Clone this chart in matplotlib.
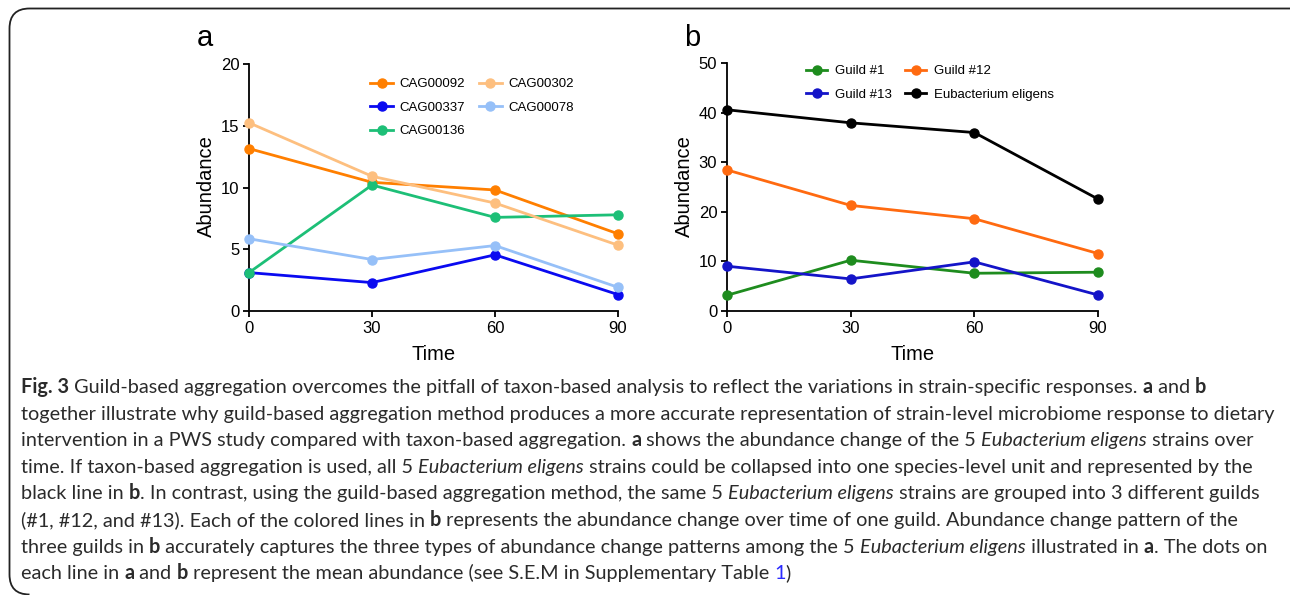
import numpy as np
import matplotlib
matplotlib.use("Agg")
import matplotlib.pyplot as plt
from matplotlib.path import Path
from matplotlib.patches import PathPatch
from matplotlib.transforms import Affine2D

W, H = 1290, 595
times = [0, 30, 60, 90]

# panel a: strains
cag_names = ["CAG00092", "CAG00337", "CAG00136", "CAG00302", "CAG00078"]
cag_colors = ["#FF7F00", "#0A0AF0", "#1DBF77", "#FDBF7F", "#96C0F8"]
cag_vals = [
    [13.15, 10.42, 9.80, 6.25],
    [3.11, 2.30, 4.55, 1.33],
    [3.11, 10.20, 7.58, 7.79],
    [15.24, 10.91, 8.74, 5.33],
    [5.85, 4.17, 5.30, 1.92],
]

# panel b: guilds
guild_names = ["Guild #1", "Guild #13", "Guild #12", "Eubacterium eligens"]
guild_colors = ["#1E8C1E", "#1414C8", "#FF6A10", "#000000"]
guild_vals = [
    [3.17, 10.24, 7.61, 7.82],
    [9.03, 6.47, 9.91, 3.23],
    [28.44, 21.29, 18.60, 11.59],
    [40.57, 37.94, 35.98, 22.57],
]

caption = [
    [("Fig. 3", "b"), (" Guild-based aggregation overcomes the pitfall of taxon-based analysis to reflect the variations in strain-specific responses. ", "r"), ("a", "b"), (" and ", "r"), ("b", "b")],
    [("together illustrate why guild-based aggregation method produces a more accurate representation of strain-level microbiome response to dietary", "r")],
    [("intervention in a PWS study compared with taxon-based aggregation. ", "r"), ("a", "b"), (" shows the abundance change of the 5 ", "r"), ("Eubacterium eligens", "i"), (" strains over", "r")],
    [("time. If taxon-based aggregation is used, all 5 ", "r"), ("Eubacterium eligens", "i"), (" strains could be collapsed into one species-level unit and represented by the", "r")],
    [("black line in ", "r"), ("b", "b"), (". In contrast, using the guild-based aggregation method, the same 5 ", "r"), ("Eubacterium eligens", "i"), (" strains are grouped into 3 different guilds", "r")],
    [("(#1, #12, and #13). Each of the colored lines in ", "r"), ("b", "b"), (" represents the abundance change over time of one guild. Abundance change pattern of the", "r")],
    [("three guilds in ", "r"), ("b", "b"), (" accurately captures the three types of abundance change patterns among the 5 ", "r"), ("Eubacterium eligens", "i"), (" illustrated in ", "r"), ("a", "b"), (". The dots on", "r")],
    [("each line in ", "r"), ("a", "b"), (" and ", "r"), ("b", "b"), (" represent the mean abundance (see S.E.M in Supplementary Table ", "r"), ("1", "link"), (")", "r")],
]

plt.rcParams["font.family"] = ["Liberation Sans", "DejaVu Sans"]
fig = plt.figure(figsize=(W / 100, H / 100), dpi=100)


def px_axes(l, r, t, b):
    return fig.add_axes([l / W, 1 - b / H, (r - l) / W, (b - t) / H])


def style_axes(ax, ymax, ystep):
    ax.set_xlim(0, 90)
    ax.set_ylim(0, ymax)
    ax.set_xticks(times)
    ax.set_yticks(np.arange(0, ymax + 1, ystep))
    for s in ["top", "right"]:
        ax.spines[s].set_visible(False)
    for s in ["left", "bottom"]:
        ax.spines[s].set_linewidth(1.3)
    ax.tick_params(direction="out", length=4.5, width=1.3, labelsize=12, pad=2.5)
    ax.set_xlabel("Time", fontsize=14.5)
    ax.set_ylabel("Abundance", fontsize=14.5)


# panel a
axa = px_axes(249, 618, 64, 311)
for name, c, v in zip(cag_names, cag_colors, cag_vals):
    axa.plot(times, v, "-o", color=c, lw=2.0, ms=6.5, label=name, clip_on=False, zorder=3)
style_axes(axa, 20, 5)
axa.xaxis.set_label_coords((434 - 249) / 369, (311 - 355) / 247)
axa.xaxis.label.set_va("center")
axa.yaxis.set_label_coords((206 - 249) / 369, (311 - 186) / 247)
axa.yaxis.label.set_va("center")
axa.legend(ncol=2, frameon=False, loc="upper left", bbox_to_anchor=(370 / W, 1 - 78 / H),
           bbox_transform=fig.transFigure, fontsize=9.5, borderpad=0, borderaxespad=0,
           handlelength=1.75, handletextpad=0.5, columnspacing=1.0, labelspacing=0.85)

# panel b
axb = px_axes(727, 1098, 63, 311)
for name, c, v in zip(guild_names, guild_colors, guild_vals):
    axb.plot(times, v, "-o", color=c, lw=2.0, ms=6.5, label=name, clip_on=False, zorder=3)
style_axes(axb, 50, 10)
axb.xaxis.set_label_coords((913 - 727) / 371, (311 - 355) / 248)
axb.xaxis.label.set_va("center")
axb.yaxis.set_label_coords((684 - 727) / 371, (311 - 186) / 248)
axb.yaxis.label.set_va("center")
axb.legend(ncol=2, frameon=False, loc="upper left", bbox_to_anchor=(806 / W, 1 - 65 / H),
           bbox_transform=fig.transFigure, fontsize=9.5, borderpad=0, borderaxespad=0,
           handlelength=1.6, handletextpad=0.6, columnspacing=1.0, labelspacing=0.85)

fig.text(197 / W, 1 - 46 / H, "a", fontsize=21, va="baseline", ha="left")
fig.text(684 / W, 1 - 46 / H, "b", fontsize=21, va="baseline", ha="left")

# rounded frame, in pixel coords (y down)
pix = Affine2D().scale(1, -1).translate(0, H)
r = 20
x0, y0, y1 = 9.5, 8.5, 594.5
verts = [(W + 5, y0), (x0 + r, y0), (x0, y0), (x0, y0 + r), (x0, y1 - r), (x0, y1), (x0 + r, y1)]
codes = [Path.MOVETO, Path.LINETO, Path.CURVE3, Path.CURVE3, Path.LINETO, Path.CURVE3, Path.CURVE3]
fig.add_artist(PathPatch(Path(verts, codes), transform=pix, fill=False, lw=1.3, edgecolor="#222222"))

# caption with mixed styles
cap_font = "Lato"
cap_color = "#2b2b2b"
styles = {
    "r": dict(weight="normal", style="normal", color=cap_color),
    "b": dict(weight="bold", style="normal", color=cap_color),
    "i": dict(weight="normal", style="italic", color=cap_color),
    "link": dict(weight="normal", style="normal", color="#2a2aff"),
}
renderer = fig.canvas.get_renderer()


def run_width(s, st, size):
    kw = dict(family=cap_font, size=size, weight=styles[st]["weight"], style=styles[st]["style"])
    t1 = fig.text(0, 0, "x" + s + "x", **kw)
    t2 = fig.text(0, 0, "xx", **kw)
    w = t1.get_window_extent(renderer).width - t2.get_window_extent(renderer).width
    t1.remove()
    t2.remove()
    return w


# fit size so the second line spans its width in the reference
ref_size = 10.0
w_ref = sum(run_width(s, st, ref_size) for s, st in caption[1])
cap_size = ref_size * (1283 - 21) / w_ref

for i, line in enumerate(caption):
    x = 21
    y = 393 + 26.6 * i
    for s, st in line:
        fig.text(x / W, 1 - y / H, s, family=cap_font, size=cap_size, va="baseline", ha="left",
                 **styles[st])
        x += run_width(s, st, cap_size)

fig.savefig("out.png", dpi=100)
